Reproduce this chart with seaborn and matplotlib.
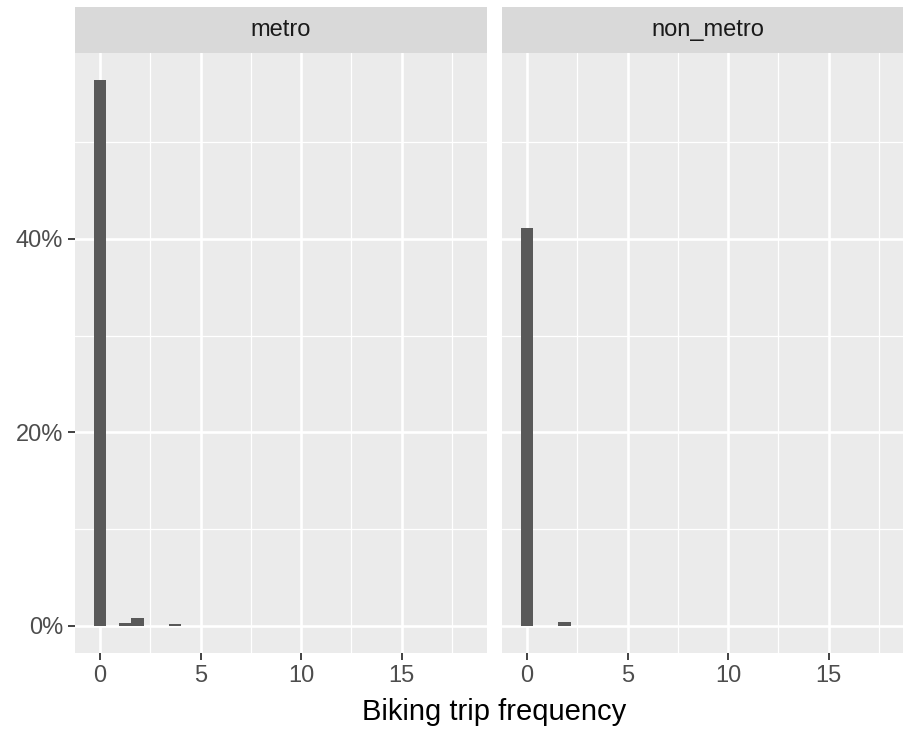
import numpy as np
import pandas as pd
import matplotlib
matplotlib.use("Agg")
import matplotlib.pyplot as plt
import seaborn as sns
from matplotlib.ticker import FixedLocator, FuncFormatter

# Share of all respondents (%) by biking trip frequency, per area type
metro_freq = [0, 1, 2, 4]
metro_pct = [56.4, 0.3, 0.85, 0.2]
non_metro_freq = [0, 2]
non_metro_pct = [41.1, 0.4]

facet_labels = ["metro", "non_metro"]
x_major = [0, 5, 10, 15]
x_minor = [2.5, 7.5, 12.5, 17.5]
y_major = [0, 20, 40]
y_minor = [10, 30, 50]

sns.set_theme(style="white")
plt.rcParams["font.family"] = ["Liberation Sans", "DejaVu Sans"]

W, H = 904, 729
fig = plt.figure(figsize=(W / 100, H / 100), dpi=100)

# 30 bins over 0..18, centred on integers like ggplot's geom_histogram
n_bins = 30
bw = 18 / (n_bins - 1)
edges = list(np.arange(n_bins + 1) * bw - bw / 2)

panel_bg = "#EBEBEB"
strip_bg = "#D9D9D9"
bar_col = "#595959"

def px_rect(x0, y0, x1, y1):
    return [x0 / W, 1 - y1 / H, (x1 - x0) / W, (y1 - y0) / H]

panels = [(75, 487), (502, 914)]
series = [(metro_freq, metro_pct), (non_metro_freq, non_metro_pct)]

for i, ((x0, x1), (fq, pc), lab) in enumerate(zip(panels, series, facet_labels)):
    ax = fig.add_axes(px_rect(x0, 53, x1, 653))
    ax.set_facecolor(panel_bg)
    df = pd.DataFrame({"freq": fq, "pct": pc})
    sns.histplot(data=df, x="freq", weights="pct", bins=edges, ax=ax,
                 color=bar_col, alpha=1, linewidth=0)
    ax.set_xlim(-1.24, 19.24)
    ax.set_ylim(-2.82, 59.22)
    ax.xaxis.set_major_locator(FixedLocator(x_major))
    ax.xaxis.set_minor_locator(FixedLocator(x_minor))
    ax.yaxis.set_major_locator(FixedLocator(y_major))
    ax.yaxis.set_minor_locator(FixedLocator(y_minor))
    ax.set_axisbelow(True)
    ax.grid(which="major", color="white", linewidth=1.9)
    ax.grid(which="minor", color="white", linewidth=0.9)
    for s in ax.spines.values():
        s.set_visible(False)
    ax.tick_params(which="major", length=5, width=1.3, color="#333333",
                   labelcolor="#4D4D4D", labelsize=17, pad=3.6)
    ax.tick_params(which="minor", length=0)
    ax.tick_params(axis="x", bottom=True)
    ax.set_xlabel("")
    ax.set_ylabel("")
    if i == 0:
        ax.tick_params(axis="y", left=True)
        ax.yaxis.set_major_formatter(FuncFormatter(lambda v, p: f"{v:.0f}%"))
    else:
        ax.tick_params(axis="y", left=False, labelleft=False)

    sax = fig.add_axes(px_rect(x0, 7, x1, 53))
    sax.set_facecolor(strip_bg)
    sax.set_xticks([])
    sax.set_yticks([])
    for s in sax.spines.values():
        s.set_visible(False)
    sax.text(0.5, 0.5, lab, transform=sax.transAxes, ha="center", va="center",
             fontsize=17, color="#1A1A1A")

fig.text(494.5 / W, 1 - 720 / H, "Biking trip frequency", ha="center",
         va="baseline", fontsize=21, color="black")

fig.savefig("out.png", dpi=100, facecolor="white")
